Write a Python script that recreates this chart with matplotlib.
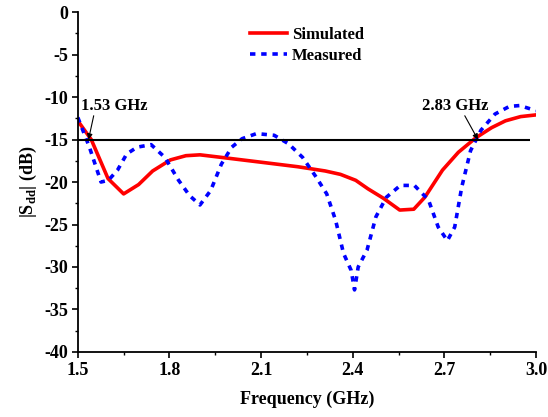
import matplotlib
matplotlib.use("Agg")
import matplotlib.pyplot as plt
from matplotlib.ticker import MultipleLocator

plt.rcParams['font.family'] = ['Liberation Serif', 'DejaVu Serif']
plt.rcParams['font.weight'] = 'bold'
plt.rcParams['axes.unicode_minus'] = False
plt.rcParams['mathtext.fontset'] = 'custom'
plt.rcParams['mathtext.rm'] = 'Liberation Serif:bold'
plt.rcParams['mathtext.bf'] = 'Liberation Serif:bold'

# simulated |Sdd|
sim_f = [1.5, 1.544, 1.599, 1.65, 1.699, 1.745, 1.803, 1.854, 1.90, 1.97, 2.107,
         2.22, 2.31, 2.36, 2.41, 2.45, 2.50, 2.554, 2.60, 2.636, 2.694, 2.746,
         2.803, 2.855, 2.90, 2.95, 3.0]
sim_db = [-12.8, -15.0, -19.6, -21.4, -20.3, -18.7, -17.4, -16.9, -16.8, -17.1, -17.7,
          -18.2, -18.7, -19.1, -19.8, -20.8, -21.9, -23.3, -23.2, -21.8, -18.6, -16.5,
          -14.8, -13.6, -12.8, -12.3, -12.1]

# measured |Sdd|
meas_f = [1.5, 1.538, 1.576, 1.60, 1.63, 1.66, 1.694, 1.74, 1.785, 1.83, 1.866, 1.90,
          1.935, 1.97, 2.004, 2.038, 2.085, 2.143, 2.19, 2.236, 2.28, 2.315, 2.344,
          2.37, 2.395, 2.406, 2.418, 2.447, 2.476, 2.51, 2.556, 2.602, 2.648, 2.68,
          2.71, 2.734, 2.757, 2.786, 2.82, 2.866, 2.913, 2.947, 3.0]
meas_db = [-12.4, -15.9, -20.0, -19.8, -18.6, -16.7, -15.9, -15.6, -17.1, -19.8, -21.6,
           -22.7, -21.0, -17.9, -15.9, -14.9, -14.3, -14.5, -15.5, -17.1, -19.4, -21.4,
           -24.5, -28.4, -30.4, -32.7, -30.0, -28.0, -24.1, -21.8, -20.4, -20.4, -22.1,
           -25.3, -26.9, -25.3, -20.6, -16.3, -13.9, -12.0, -11.1, -11.0, -11.6]

threshold = -15
band_edges = [1.535, 2.81]
band_labels = ['1.53 GHz', '2.83 GHz']

fig = plt.figure(figsize=(5.48, 4.17), dpi=100)
ax = fig.add_axes([0.142, 0.156, 0.836, 0.815])

ax.plot(sim_f, sim_db, color='#ff0000', lw=2.6, label='Simulated')
ax.plot(meas_f, meas_db, color='#0000ff', lw=2.6, dashes=(1.5, 1.6), label='Measured')
ax.hlines(threshold, 1.5, 2.98, color='black', lw=1.5)

arrow = dict(arrowstyle='-|>', color='black', lw=0.8, shrinkA=0, shrinkB=0,
             mutation_scale=8)
# text and arrow tail placed separately so the arrow starts under the label
ax.text(1.51, -11.0, band_labels[0], fontsize=12, fontweight='bold',
        ha='left', va='center')
ax.annotate('', xy=(band_edges[0], threshold), xytext=(1.552, -12.2),
            arrowprops=arrow)
ax.text(2.735, -11.0, band_labels[1], fontsize=12, fontweight='bold',
        ha='center', va='center')
ax.annotate('', xy=(band_edges[1], threshold), xytext=(2.767, -12.2),
            arrowprops=arrow)

ax.set_xlim(1.5, 3.0)
ax.set_ylim(-40, 0)
ax.xaxis.set_minor_locator(MultipleLocator(0.15))
ax.yaxis.set_major_locator(MultipleLocator(5))
ax.yaxis.set_minor_locator(MultipleLocator(2.5))
ax.set_xticks([1.5, 1.8, 2.1, 2.4, 2.7, 3.0])
ax.set_xticklabels(['1.5', '1.8', '2.1', '2.4', '2.7', '3.0'])

ax.tick_params(which='major', direction='out', length=4, width=1.2, labelsize=13, pad=3)
ax.tick_params(which='minor', direction='out', length=2.5, width=1.0)
for lab in ax.get_xticklabels() + ax.get_yticklabels():
    lab.set_fontweight('bold')

for s in ['top', 'right']:
    ax.spines[s].set_visible(False)
for s in ['left', 'bottom']:
    ax.spines[s].set_linewidth(1.3)

ax.set_xlabel('Frequency (GHz)', fontsize=13, fontweight='bold', labelpad=9)
ax.set_ylabel(r'|S$_{\mathrm{dd}}$| (dB)', fontsize=13, fontweight='bold', labelpad=4)

ax.legend(loc='upper center', bbox_to_anchor=(0.5, 1.0), frameon=False,
          handlelength=2.2, handletextpad=0.3, labelspacing=0.3,
          prop={'weight': 'bold', 'size': 12})

fig.savefig('out.png', dpi=100)
